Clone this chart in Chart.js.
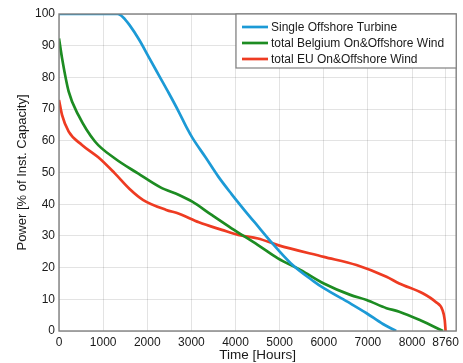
<!DOCTYPE html>
<html>
<head>
<meta charset="utf-8">
<script src="https://cdn.jsdelivr.net/npm/chart.js@4.4.1/dist/chart.umd.min.js"></script>
<style>
  html, body { margin: 0; padding: 0; background: #fff; }
  #wrap { width: 463px; height: 363px; position: relative; }
</style>
</head>
<body>
<div id="wrap"><canvas id="duration"></canvas></div>
<script>
  "use strict";

  // load duration curves: hours of the year vs. power in % of installed capacity
  var turbineHours = [0, 1330, 1450, 1600, 1820, 2050, 2270, 2490, 2720, 2900, 3020, 3320, 3610, 3910, 4210, 4510, 4800, 5250, 5780, 6000, 6600, 6970, 7340, 7640];
  var turbinePower = [100, 100, 99, 96.5, 91.8, 86, 80.5, 75, 69, 64, 61, 54.8, 48.7, 43.2, 38, 33, 28.2, 21.4, 15.6, 13.5, 8.7, 5.6, 2.2, 0];

  var belgiumHours = [0, 70, 220, 440, 820, 1260, 1790, 2300, 2720, 3020, 3460, 3910, 4510, 4960, 5480, 6000, 6600, 6970, 7420, 7710, 8200, 8700];
  var belgiumPower = [92.3, 86, 75.5, 68.1, 59.7, 54.5, 49.7, 45.3, 42.9, 40.8, 36.6, 32.4, 27.1, 22.9, 19.2, 15, 11.4, 9.8, 7.2, 6.1, 3.3, 0];

  var euHours = [0, 70, 220, 520, 890, 1260, 1600, 1910, 2430, 2720, 3170, 3690, 4060, 4510, 4960, 6000, 6740, 7420, 7710, 8240, 8530, 8690, 8740, 8760];
  var euPower = [72.9, 68.1, 62.9, 58.7, 54.8, 49.8, 44.8, 41.3, 38.2, 37, 34.3, 31.9, 30.3, 29.2, 27.1, 23.4, 20.8, 17.1, 15, 11.9, 9.2, 6.6, 3.5, 0];

  var seriesNames = ["Single Offshore Turbine", "total Belgium On&Offshore Wind", "total EU On&Offshore Wind"];
  var hourTicks = [0, 1000, 2000, 3000, 4000, 5000, 6000, 7000, 8000, 8760];

  var colors = ["#1c9ad6", "#1d8c22", "#ee3b22"];
  var font = "'Liberation Sans', Arial, sans-serif";

  var toPoints = function(xs, ys) {
    return xs.map(function(x, i) { return { x: x, y: ys[i] }; });
  };

  var makeSet = function(i, xs, ys) {
    return {
      label: seriesNames[i],
      data: toPoints(xs, ys),
      borderColor: colors[i],
      backgroundColor: colors[i],
      borderWidth: 2.7,
      pointRadius: 0,
      showLine: true,
      cubicInterpolationMode: "monotone"
    };
  };

  // frame around the plot area, like a matlab axes box
  var boxPlugin = {
    id: "box",
    afterDatasetsDraw: function(chart) {
      var a = chart.chartArea, ctx = chart.ctx;
      ctx.save();
      ctx.strokeStyle = "#808080";
      ctx.lineWidth = 1.4;
      ctx.strokeRect(a.left, a.top, a.right - a.left, a.bottom - a.top);
      ctx.restore();
    }
  };

  // legend box in the top right corner of the plot
  var legendPlugin = {
    id: "boxLegend",
    afterDraw: function(chart) {
      var ctx = chart.ctx, a = chart.chartArea;
      var x0 = 236, y0 = a.top, w = a.right - 236, h = 54;
      ctx.save();
      ctx.fillStyle = "#fff";
      ctx.fillRect(x0, y0, w, h);
      ctx.strokeStyle = "#808080";
      ctx.lineWidth = 1.2;
      ctx.strokeRect(x0, y0, w, h);
      ctx.font = "12px " + font;
      ctx.textBaseline = "middle";
      chart.data.datasets.forEach(function(ds, i) {
        var y = y0 + 13 + i * 16;
        ctx.strokeStyle = ds.borderColor;
        ctx.lineWidth = 2.7;
        ctx.beginPath();
        ctx.moveTo(242, y);
        ctx.lineTo(268, y);
        ctx.stroke();
        ctx.fillStyle = "#1a1a1a";
        ctx.fillText(ds.label, 271, y + 0.5);
      });
      ctx.restore();
    }
  };

  new Chart("duration", {
    type: "scatter",
    data: {
      datasets: [
        makeSet(0, turbineHours, turbinePower),
        makeSet(1, belgiumHours, belgiumPower),
        makeSet(2, euHours, euPower)
      ]
    },
    options: {
      responsive: true,
      maintainAspectRatio: false,
      animation: false,
      layout: { padding: { top: 14, right: 2, left: 0, bottom: 0 } },
      plugins: {
        legend: false,
        tooltip: false
      },
      scales: {
        x: {
          type: "linear",
          min: 0,
          max: 9000,
          afterBuildTicks: function(scale) {
            scale.ticks = hourTicks.map(function(v) { return { value: v }; });
          },
          afterFit: function(scale) { scale.height = 32; },
          grid: { color: "rgba(0,0,0,0.11)", drawTicks: false },
          border: { display: false },
          ticks: {
            autoSkip: false,
            maxRotation: 0,
            padding: 4,
            color: "#1a1a1a",
            font: { family: font, size: 12 },
            callback: function(v) { return String(v); }
          },
          title: {
            display: true,
            text: "Time [Hours]",
            color: "#1a1a1a",
            padding: { top: 0, bottom: 0 },
            font: { family: font, size: 13.5 }
          }
        },
        y: {
          min: 0,
          max: 100,
          afterFit: function(scale) { scale.width = 59; },
          grid: { color: "rgba(0,0,0,0.11)", drawTicks: false },
          border: { display: false },
          ticks: {
            stepSize: 10,
            padding: 4,
            color: "#1a1a1a",
            font: { family: font, size: 12 }
          },
          title: {
            display: true,
            text: "Power [% of Inst. Capacity]",
            color: "#1a1a1a",
            padding: { top: 15, bottom: 0 },
            font: { family: font, size: 13 }
          }
        }
      }
    },
    plugins: [boxPlugin, legendPlugin]
  });
</script>
</body>
</html>
